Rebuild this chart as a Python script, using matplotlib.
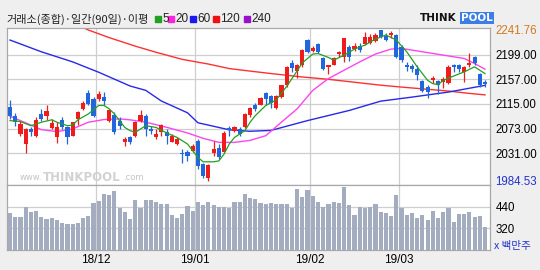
import matplotlib
matplotlib.use('Agg')
import matplotlib.pyplot as plt
from matplotlib.patches import Rectangle
import numpy as np

# daily candles, 2018-11-08 .. 2019-03-26 (92 sessions)
opens = [2110.7, 2094.2, 2063.9, 2046.8, 2072.0, 2059.9, 2098.2, 2094.2, 2073.6, 2058.2,
         2087.9, 2075.3, 2061.0, 2089.6, 2106.8, 2134.2, 2122.7, 2124.0, 2126.8, 2086.7,
         2096.5, 2086.7, 2049.6, 2058.2, 2061.0, 2086.7, 2095.3, 2072.5, 2058.2, 2066.7,
         2066.7, 2050.7, 2046.8, 2030.8, 2033.6, 2035.3, 2052.5, 2012.5, 1989.6, 2031.3,
         2039.3, 2033.6, 2073.6, 2069.6, 2072.5, 2075.3, 2096.5, 2112.5, 2113.6, 2133.6,
         2127.9, 2107.9, 2126.8, 2146.8, 2185.6, 2170.7, 2181.0, 2223.9, 2205.0, 2216.5,
         2193.6, 2178.2, 2182.2, 2199.3, 2195.3, 2212.5, 2208.5, 2214.2, 2216.5, 2218.2,
         2222.2, 2241.0, 2231.3, 2232.5, 2232.5, 2212.5, 2182.2, 2179.3, 2175.3, 2153.6,
         2143.9, 2155.3, 2153.6, 2152.5, 2151.3, 2182.2, 2182.2, 2169.6, 2181.0, 2194.2,
         2166.7, 2152.5]
highs = [2121.0, 2099.9, 2086.7, 2073.6, 2076.0, 2092.5, 2106.8, 2112.5, 2089.6, 2083.9,
         2092.5, 2078.2, 2084.9, 2102.2, 2119.3, 2138.2, 2126.8, 2137.0, 2135.3, 2106.8,
         2101.0, 2092.5, 2058.2, 2061.0, 2086.7, 2103.9, 2098.2, 2078.0, 2072.5, 2081.0,
         2072.5, 2063.9, 2058.2, 2038.2, 2037.0, 2046.8, 2055.3, 2015.3, 2012.5, 2052.5,
         2046.8, 2069.6, 2078.2, 2078.2, 2075.3, 2100.0, 2109.6, 2116.5, 2126.8, 2135.3,
         2129.6, 2129.6, 2147.9, 2179.9, 2190.7, 2183.9, 2208.5, 2225.6, 2214.2, 2218.2,
         2195.3, 2182.2, 2195.3, 2205.0, 2227.9, 2215.3, 2218.2, 2218.2, 2237.0, 2233.6,
         2235.3, 2241.76, 2235.3, 2239.3, 2233.6, 2215.3, 2186.7, 2183.9, 2182.2, 2155.3,
         2146.7, 2162.7, 2155.3, 2161.0, 2182.2, 2183.9, 2183.9, 2179.9, 2201.0, 2196.5,
         2168.5, 2155.3]
lows = [2088.6, 2078.2, 2061.0, 2031.3, 2060.0, 2058.2, 2086.7, 2087.9, 2072.5, 2048.5,
        2072.5, 2046.8, 2059.9, 2079.3, 2103.9, 2112.5, 2092.5, 2120.0, 2112.5, 2085.0,
        2063.9, 2072.5, 2043.9, 2046.8, 2058.2, 2083.9, 2061.0, 2063.9, 2055.3, 2061.0,
        2046.8, 2049.6, 2045.0, 2015.3, 2018.0, 2032.5, 2003.9, 1989.6, 1984.53, 2026.7,
        2021.0, 2032.5, 2061.0, 2067.9, 2061.0, 2073.6, 2092.5, 2102.2, 2112.5, 2113.6,
        2107.9, 2106.8, 2125.0, 2143.9, 2169.6, 2159.3, 2178.2, 2201.0, 2202.7, 2201.0,
        2172.5, 2166.7, 2181.0, 2195.3, 2186.7, 2187.9, 2205.0, 2203.9, 2215.3, 2216.5,
        2221.0, 2226.7, 2222.2, 2226.7, 2192.5, 2186.7, 2170.7, 2169.6, 2155.3, 2135.3,
        2125.0, 2151.3, 2132.5, 2142.2, 2149.6, 2169.6, 2169.6, 2152.5, 2178.0, 2182.2,
        2143.9, 2143.9]
closes = [2094.2, 2083.9, 2081.0, 2072.5, 2068.0, 2088.5, 2089.6, 2102.2, 2082.2, 2076.5,
          2076.5, 2058.2, 2083.9, 2101.0, 2117.0, 2115.3, 2095.3, 2132.0, 2119.3, 2103.9,
          2067.9, 2078.2, 2055.3, 2050.7, 2083.9, 2096.5, 2072.5, 2069.6, 2063.9, 2079.3,
          2061.0, 2061.0, 2055.3, 2029.0, 2026.7, 2042.8, 2009.6, 1992.5, 2010.7, 2038.2,
          2023.9, 2065.0, 2071.3, 2075.3, 2063.9, 2098.2, 2107.9, 2106.8, 2125.0, 2123.9,
          2117.0, 2128.5, 2146.8, 2178.2, 2176.5, 2182.2, 2206.7, 2203.9, 2210.7, 2203.9,
          2175.3, 2181.0, 2192.5, 2203.9, 2226.7, 2195.3, 2214.2, 2206.7, 2229.6, 2229.6,
          2232.5, 2229.6, 2223.9, 2235.3, 2195.3, 2189.6, 2178.2, 2175.3, 2165.0, 2136.5,
          2135.3, 2159.3, 2147.9, 2158.2, 2178.2, 2178.2, 2175.3, 2178.2, 2184.0, 2185.6,
          2146.7, 2149.6]
# volume (million shares)
volumes = [403, 384, 384, 440, 409, 418, 384, 370, 376, 366,
           351, 342, 344, 351, 376, 387, 459, 472, 511, 505,
           529, 431, 412, 370, 477, 431, 477, 477, 464, 455,
           455, 394, 376, 400, 446, 416, 468, 449, 464, 449,
           440, 440, 434, 464, 468, 509, 490, 481, 462, 455,
           459, 453, 455, 455, 434, 538, 496, 533, 501, 464,
           440, 453, 464, 462, 551, 449, 394, 440, 434, 436,
           453, 409, 403, 387, 505, 434, 394, 403, 379, 394,
           366, 418, 376, 412, 431, 355, 400, 400, 412, 384,
           387, 325]

# moving averages (bar index, value)
ma5_idx = [0, 2, 4, 6, 8, 9, 11, 12, 13, 15, 17, 18, 19, 20, 21, 22, 23, 24, 26, 28,
           30, 32, 34, 36, 37, 39, 40, 41, 42, 43, 45, 46, 47, 49, 51, 53, 54, 56, 58, 59,
           61, 62, 64, 66, 68, 70, 72, 74, 76, 78, 80, 81, 82, 83, 85, 87, 89, 91]
ma5_val = [2086.7, 2085.0, 2078.0, 2083.9, 2088.0, 2083.9, 2078.0, 2079.0, 2088.0, 2098.0,
           2112.5, 2112.5, 2106.7, 2098.0, 2086.7, 2075.0, 2069.6, 2066.7, 2078.0, 2075.0,
           2065.6, 2058.0, 2046.8, 2024.0, 2016.5, 2016.5, 2018.0, 2029.6, 2046.8, 2058.0,
           2069.6, 2084.0, 2095.3, 2112.5, 2122.0, 2145.0, 2158.0, 2185.0, 2200.0, 2201.0,
           2194.2, 2189.6, 2198.2, 2208.5, 2215.3, 2225.6, 2232.5, 2223.9, 2203.9, 2178.2,
           2155.3, 2149.6, 2147.9, 2155.3, 2162.7, 2169.6, 2178.2, 2166.7]
ma20_idx = [0, 2, 6, 9, 12, 15, 18, 21, 23, 26, 30, 34, 37, 40, 43, 46, 49, 52, 55, 58,
            61, 64, 67, 70, 73, 75, 79, 83, 87, 89, 91]
ma20_val = [2094.2, 2086.7, 2071.3, 2067.9, 2072.5, 2083.9, 2088.5, 2089.6, 2088.0, 2084.0,
            2075.3, 2065.6, 2056.5, 2049.6, 2049.6, 2053.0, 2061.0, 2084.0, 2106.7, 2138.2,
            2158.2, 2172.5, 2186.7, 2200.0, 2208.5, 2209.6, 2203.9, 2198.2, 2192.5, 2183.9,
            2174.2]
ma60_idx = [0, 6, 12, 17, 23, 26, 29, 34, 36, 42, 46, 50, 57, 65, 71, 77, 84, 91]
ma60_val = [2223.9, 2203.9, 2186.7, 2169.0, 2145.6, 2138.2, 2120.0, 2100.0, 2083.0, 2071.0,
            2068.5, 2070.0, 2086.7, 2104.0, 2119.8, 2126.7, 2135.3, 2146.7]
ma120_idx = [14, 15, 19, 24, 28, 33, 38, 42, 46, 50, 56, 61, 66, 71, 75, 80, 84, 88, 91]
ma120_val = [2245.0, 2241.0, 2228.0, 2213.5, 2203.0, 2191.0, 2183.0, 2175.3, 2171.0, 2166.8,
             2161.0, 2157.0, 2152.0, 2147.0, 2143.8, 2140.0, 2137.0, 2133.0, 2130.5]

price_ticks = [1984.53, 2031.0, 2073.0, 2115.0, 2157.0, 2199.0, 2241.76]
vol_ticks = [320, 440]
month_edges = [16.5, 35.5, 57.5, 74.5]
month_labels = ['18/12', '19/01', '19/02', '19/03']

RED = '#f01c1c'
BLUE = '#2266dd'
GRID = '#cfcfcf'
LBL = 'Liberation Sans'

fig = plt.figure(figsize=(5.4, 2.7), dpi=100, facecolor='#efefef')

def fx(px):
    return px / 540.0

def fy(py):
    return 1 - py / 270.0

ax = fig.add_axes([fx(7), fy(185), fx(490) - fx(7), fy(28) - fy(185)])
axv = fig.add_axes([fx(7), fy(250), fx(490) - fx(7), fy(185) - fy(250)], sharex=ax)

n = len(closes)
idx = np.arange(n)
o = np.array(opens)
c = np.array(closes)
up = c >= o
cols = np.where(up, RED, BLUE)

# grid
for p in price_ticks[1:-1]:
    ax.axhline(p, color=GRID, lw=0.9, zorder=0)
for m in month_edges:
    ax.axvline(m, color=GRID, lw=0.9, zorder=0)
    axv.axvline(m, color=GRID, lw=0.9, zorder=0)
for v in vol_ticks:
    axv.axhline(v, color=GRID, lw=0.9, zorder=0)

# watermark
ax.text(0.027, 0.03, 'www.', transform=ax.transAxes, fontsize=6, color='#c4c4c4', zorder=1)
ax.text(0.074, 0.025, 'THINKPOOL', transform=ax.transAxes, fontsize=8.5, fontweight='bold',
        color='#d2d2d2', zorder=1)
ax.text(0.24, 0.03, '.com', transform=ax.transAxes, fontsize=6, color='#c4c4c4', zorder=1)

# moving averages
ax.plot(ma120_idx, ma120_val, color='#ff3030', lw=1.0, zorder=2)
ax.plot(ma60_idx, ma60_val, color='#2828e8', lw=1.0, zorder=2)
ax.plot(ma20_idx, ma20_val, color='#ff44ee', lw=1.0, zorder=2)

# candles
ax.vlines(idx, lows, highs, colors=cols, lw=0.9, zorder=3)
body = np.maximum(np.abs(c - o), 1.3)
ax.bar(idx, body, bottom=np.minimum(o, c), width=0.8, color=cols, zorder=4)

ax.plot(ma5_idx, ma5_val, color='#22a022', lw=0.9, zorder=5)

ax.set_xlim(-0.575, 91.95)
ax.set_ylim(1977.0, 2244.4)

ax.yaxis.tick_right()
ax.set_yticks(price_ticks)
ax.set_yticklabels(['%.2f' % p for p in price_ticks], family=LBL)
ax.tick_params(axis='y', length=0, pad=4, labelsize=8.3)
ax.tick_params(axis='x', length=0, labelbottom=False)
tl = ax.get_yticklabels()
tl[0].set_color('#2233cc')
tl[-1].set_color('#d07a20')

# volume
axv.bar(idx, volumes, width=0.8, color='#a4acbf', zorder=2)
axv.set_ylim(199, 561)
axv.yaxis.tick_right()
axv.set_yticks(vol_ticks)
axv.set_yticklabels([str(v) for v in vol_ticks], family=LBL)
axv.tick_params(axis='y', length=0, pad=4, labelsize=8.3)
axv.set_xticks(month_edges)
axv.set_xticklabels(month_labels, family=LBL)
axv.tick_params(axis='x', length=0, pad=3, labelsize=8.5)

for a in (ax, axv):
    a.set_facecolor('white')
    for s in a.spines.values():
        s.set_color('#a8a8a8')
        s.set_linewidth(0.9)

kr = ['Noto Sans CJK KR', 'DejaVu Sans']
fig.text(fx(494), fy(246), 'x 백만주', color='#2233cc', fontsize=7.6, family=kr, va='center')

# header
fig.text(fx(6), fy(19), '거래소(종합)·일간(90일)·이평', fontsize=8.0, family=kr, va='center',
         color='#222222')
legend = [('5', '#22a022', 155), ('20', '#ff22dd', 168), ('60', '#1a1aee', 190),
          ('120', '#ee1111', 213), ('240', '#9911cc', 244)]
for lab, col, px in legend:
    fig.add_artist(Rectangle((fx(px), fy(22)), fx(6), 6 / 270.0, transform=fig.transFigure,
                             color=col))
    fig.text(fx(px + 7), fy(19), lab, fontsize=8.5, va='center', color='#222222', family=LBL)

fig.text(fx(420), fy(18), 'THINK', fontsize=7.5, fontweight='bold', color='#111111', va='center')
fig.text(fx(461), fy(18), 'POOL', fontsize=7.5, fontweight='bold', color='white', va='center',
         bbox=dict(boxstyle='square,pad=0.12', fc='#3a7ee6', ec='none'))

fig.savefig('out.png', dpi=100, facecolor=fig.get_facecolor())
